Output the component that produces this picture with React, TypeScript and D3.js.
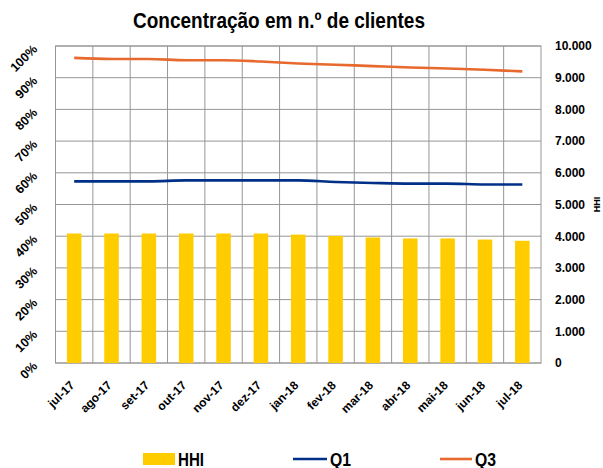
import React from "react";
import * as d3 from "d3";

const categories = ["jul-17","ago-17","set-17","out-17","nov-17","dez-17","jan-18","fev-18","mar-18","abr-18","mai-18","jun-18","jul-18"];
const hhi = [4085, 4085, 4085, 4085, 4085, 4085, 4050, 4010, 3960, 3930, 3930, 3895, 3855];
const q1 = [57.3, 57.3, 57.3, 57.6, 57.6, 57.6, 57.6, 57.1, 56.8, 56.6, 56.6, 56.3, 56.3];
const q3 = [96.25, 95.9, 95.9, 95.5, 95.5, 95.1, 94.5, 94.1, 93.65, 93.2, 92.9, 92.5, 92.0];
const leftTicks = [0, 10, 20, 30, 40, 50, 60, 70, 80, 90, 100];
const rightTicks = [0, 1000, 2000, 3000, 4000, 5000, 6000, 7000, 8000, 9000, 10000];

const W = 603, H = 468;
const L = 55.5, R = 541, T = 46, B = 363;
const FONT = "'Liberation Sans', Arial, sans-serif";
const GRID = "#969696";

export default function App() {
  const x = d3.scaleBand<string>().domain(categories).range([L, R]).padding(0);
  const yL = d3.scaleLinear().domain([0, 100]).range([B, T]);
  const yR = d3.scaleLinear().domain([0, 10000]).range([B, T]);
  const step = x.step();
  const bw = step * 0.39;
  const cx = (c: string) => (x(c) as number) + step / 2;
  const fmt = (v: number) => d3.format(",")(v).replace(/,/g, ".");

  const line = (vals: number[]) =>
    d3.line<number>().x((_, i) => cx(categories[i])).y((v) => yL(v)).curve(d3.curveMonotoneX)(vals) || "";

  return (
    <svg width={W} height={H} style={{ position: "absolute", left: 0, top: 0, background: "#fff" }}>
      <text x={279} y={28} textAnchor="middle" fontFamily={FONT} fontWeight="bold" fontSize={22}
        textLength={292} lengthAdjust="spacingAndGlyphs" fill="#000">Concentração em n.º de clientes</text>

      {leftTicks.map((t) => (
        <line key={"h" + t} x1={L} x2={R} y1={yL(t)} y2={yL(t)} stroke={GRID} strokeWidth={1} />
      ))}
      {categories.map((c) => (
        <line key={"v" + c} x1={(x(c) as number)} x2={(x(c) as number)} y1={T} y2={B} stroke={GRID} strokeWidth={1} />
      ))}
      <rect x={L} y={T} width={R - L} height={B - T} fill="none" stroke={GRID} strokeWidth={1} />

      {categories.map((c, i) => (
        <rect key={"b" + c} x={cx(c) - bw / 2} y={yR(hhi[i])} width={bw} height={B - yR(hhi[i])} fill="#FFCC00" />
      ))}

      <path d={line(q1)} fill="none" stroke="#002F87" strokeWidth={2.6} />
      <path d={line(q3)} fill="none" stroke="#E8692D" strokeWidth={2.6} />

      {leftTicks.map((t) => (
        <text key={"l" + t} transform={`translate(38,${yL(t) + 4}) rotate(-45)`} textAnchor="end"
          fontFamily={FONT} fontWeight="bold" fontSize={12.5} fill="#000">{t + "%"}</text>
      ))}
      {rightTicks.map((t) => (
        <text key={"r" + t} x={555} y={yR(t) + 4.3} fontFamily={FONT} fontWeight="bold" fontSize={12} fill="#000">{fmt(t)}</text>
      ))}
      <text transform={`translate(600,${(T + B) / 2}) rotate(-90)`} textAnchor="middle" fontFamily={FONT}
        fontWeight="bold" fontSize={9} fill="#000">HHI</text>

      {categories.map((c) => (
        <text key={"x" + c} transform={`translate(${cx(c) + 1},${386}) rotate(-45)`} textAnchor="end"
          fontFamily={FONT} fontWeight="bold" fontSize={12} fill="#000">{c}</text>
      ))}

      <rect x={143} y={453} width={32} height={12} fill="#FFCC00" />
      <text x={178} y={465.5} fontFamily={FONT} fontWeight="bold" fontSize={18} textLength={26} lengthAdjust="spacingAndGlyphs">HHI</text>
      <line x1={293} x2={327} y1={459} y2={459} stroke="#002F87" strokeWidth={2.6} />
      <text x={330} y={465.5} fontFamily={FONT} fontWeight="bold" fontSize={18} textLength={21} lengthAdjust="spacingAndGlyphs">Q1</text>
      <line x1={440} x2={472} y1={459} y2={459} stroke="#E8692D" strokeWidth={2.6} />
      <text x={475} y={465.5} fontFamily={FONT} fontWeight="bold" fontSize={18} textLength={21} lengthAdjust="spacingAndGlyphs">Q3</text>
    </svg>
  );
}
